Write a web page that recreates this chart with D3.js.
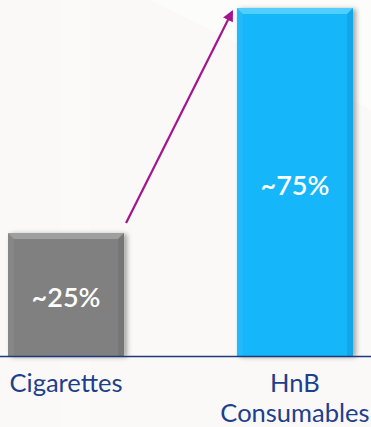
<!DOCTYPE html>
<html><head><meta charset="utf-8">
<script src="https://cdn.jsdelivr.net/npm/d3@7"></script>
<style>html,body{margin:0;padding:0;background:#faf9f7;}svg{display:block;}</style>
</head><body>
<script>
const categories = ["Cigarettes", "HnB Consumables"];
const values = [25, 75];
const valueLabels = ["~25%", "~75%"];
const categoryLines = [["Cigarettes"], ["HnB", "Consumables"]];
const barColors = ["#808080", "#13b6fb"];
const bevelColors = ["#a6a6a6", "#5fd4ff"];

const W = 371, H = 427;
const svg = d3.select("body").append("svg").attr("width", W).attr("height", H);
const defs = svg.append("defs");
const f = defs.append("filter").attr("id","sh").attr("x","-20%").attr("y","-20%").attr("width","140%").attr("height","140%");
f.append("feDropShadow").attr("dx",3).attr("dy",1).attr("stdDeviation",2.5).attr("flood-color","#000").attr("flood-opacity",0.35);
const mk = defs.append("marker").attr("id","ah").attr("viewBox","0 0 10 10").attr("refX",8).attr("refY",5)
  .attr("markerWidth",5).attr("markerHeight",5).attr("orient","auto");
mk.append("path").attr("d","M0,0 L10,5 L0,10 z").attr("fill","#a3158f");

// background faint shapes
svg.append("rect").attr("width",W).attr("height",H).attr("fill","#faf9f7");
svg.append("path").attr("d","M150,0 L371,110 L371,0 Z").attr("fill","#ffffff").attr("opacity",0.45);
svg.append("path").attr("d","M60,0 L90,0 L90,427 L60,427 Z").attr("fill","#ffffff").attr("opacity",0.25);

const x = d3.scaleBand().domain(categories).range([8, 353]).paddingInner(0.493).paddingOuter(0);
const y = d3.scaleLinear().domain([-2.3, 75]).range([356, 8]);

const bars = svg.append("g");
categories.forEach((c, i) => {
  const x0 = x(c), bw = x.bandwidth(), y0 = y(values[i]), y1 = y(y.domain()[0]);
  bars.append("rect").attr("x", x0).attr("y", y0).attr("width", bw).attr("height", y1 - y0)
    .attr("fill", barColors[i]).attr("filter","url(#sh)");
  const b = 6;
  bars.append("path").attr("d", `M${x0},${y0} L${x0+bw},${y0} L${x0+bw-b},${y0+b} L${x0+b},${y0+b} Z`)
    .attr("fill", bevelColors[i]).attr("opacity",0.8);
  bars.append("path").attr("d", `M${x0},${y0} L${x0+b},${y0+b} L${x0+b},${y1} L${x0},${y1} Z`)
    .attr("fill", "#ffffff").attr("opacity",0.06);
  bars.append("path").attr("d", `M${x0+bw},${y0} L${x0+bw-b},${y0+b} L${x0+bw-b},${y1} L${x0+bw},${y1} Z`)
    .attr("fill", "#000").attr("opacity",0.08);
  bars.append("text").attr("x", x0 + bw/2).attr("y", (y0 + y1)/2 + 6)
    .attr("text-anchor","middle").attr("dominant-baseline","middle")
    .attr("font-family","Lato").attr("font-weight","600").attr("font-size",27)
    .attr("fill","#fff").text(valueLabels[i]);
});

// axis baseline
const axis = d3.axisBottom(x).tickSize(0).tickFormat("");
const ag = svg.append("g").attr("transform", `translate(0,${y(y.domain()[0])})`).call(axis);
ag.select(".domain").attr("d", `M0,0.5H${W}`).attr("stroke","#1f3a7a").attr("stroke-width",1.5);

categories.forEach((c, i) => {
  const t = svg.append("text").attr("text-anchor","middle").attr("font-family","Lato")
    .attr("font-size",25.5).attr("fill","#1e3f8c");
  categoryLines[i].forEach((ln, j) => {
    t.append("tspan").attr("x", x(c) + x.bandwidth()/2).attr("y", 392 + j*30).text(ln);
  });
});

// arrow annotation
const ax0 = x(categories[0]) + x.bandwidth() + 2, ay0 = y(values[0]) - 10;
const ax1 = x(categories[1]) - 5, ay1 = y(values[1]) + 4;
svg.append("line").attr("x1", ax0).attr("y1", ay0).attr("x2", ax1).attr("y2", ay1)
  .attr("stroke","#a3158f").attr("stroke-width",2.2).attr("marker-end","url(#ah)");
</script>
</body></html>
